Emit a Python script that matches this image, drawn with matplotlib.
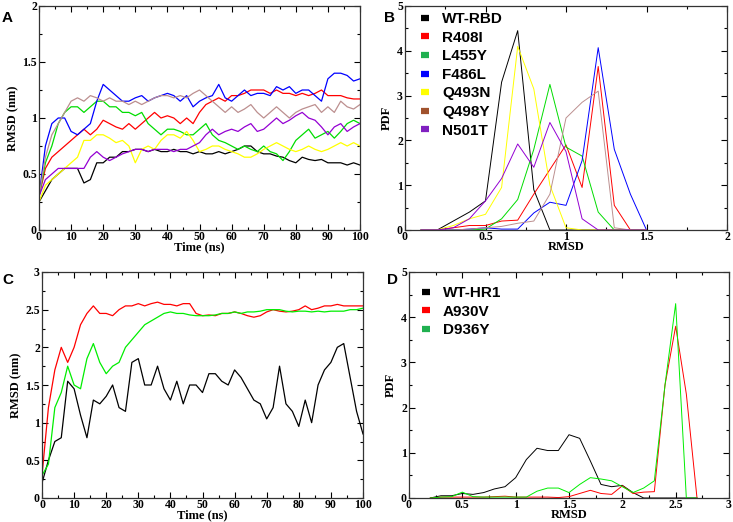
import numpy as np
import matplotlib
matplotlib.use("Agg")
import matplotlib.pyplot as plt
from matplotlib.lines import Line2D
from matplotlib.ticker import MultipleLocator

# ---- Panel A: RBD RMSD vs time (sampled every 2 ns) ----
t = np.arange(0, 101, 2)
rbd_names = ["WT-RBD", "R408I", "L455Y", "F486L", "Q493N", "Q498Y", "N501T"]
wt_rbd = [0.25, 0.35, 0.45, 0.5, 0.55, 0.55, 0.55, 0.42, 0.45, 0.6, 0.6, 0.65, 0.65, 0.7, 0.7, 0.72,
          0.72, 0.7, 0.72, 0.7, 0.7, 0.72, 0.7, 0.7, 0.68, 0.7, 0.68, 0.68, 0.7, 0.68, 0.7, 0.72,
          0.75, 0.75, 0.7, 0.68, 0.68, 0.66, 0.65, 0.62, 0.6, 0.65, 0.63, 0.62, 0.63, 0.6, 0.6, 0.6,
          0.58, 0.6, 0.58]
r408i = [0.3, 0.55, 0.65, 0.7, 0.75, 0.8, 0.85, 0.9, 0.85, 0.9, 0.98, 0.95, 0.92, 0.9, 0.95, 0.9,
         0.95, 1.0, 1.05, 1.0, 1.02, 1.0, 0.95, 1.0, 0.95, 1.05, 1.12, 1.15, 1.18, 1.15, 1.2, 1.2,
         1.22, 1.25, 1.25, 1.25, 1.22, 1.25, 1.22, 1.22, 1.2, 1.22, 1.2, 1.22, 1.25, 1.2, 1.2, 1.2,
         1.18, 1.17, 1.17]
l455y = [0.3, 0.6, 0.75, 0.95, 1.05, 1.1, 1.1, 1.05, 1.1, 1.15, 1.15, 1.1, 1.1, 1.05, 1.05, 1.02,
         1.05, 0.95, 0.9, 0.85, 0.9, 0.9, 0.88, 0.85, 0.85, 0.9, 0.95, 0.85, 0.8, 0.78, 0.75, 0.72,
         0.75, 0.72, 0.7, 0.75, 0.7, 0.68, 0.62, 0.7, 0.8, 0.85, 0.9, 0.82, 0.85, 0.88, 0.82, 0.88,
         0.95, 0.98, 0.95]
f486l = [0.3, 0.75, 0.95, 1.0, 1.0, 0.88, 0.85, 0.9, 0.95, 1.15, 1.3, 1.25, 1.2, 1.15, 1.15, 1.18,
         1.2, 1.15, 1.18, 1.2, 1.22, 1.2, 1.15, 1.2, 1.1, 1.15, 1.18, 1.2, 1.3, 1.18, 1.15, 1.2,
         1.25, 1.2, 1.22, 1.22, 1.2, 1.28, 1.25, 1.28, 1.22, 1.25, 1.25, 1.2, 1.15, 1.35, 1.4, 1.4,
         1.38, 1.33, 1.35]
q493n = [0.25, 0.4, 0.45, 0.5, 0.55, 0.6, 0.65, 0.8, 0.8, 0.85, 0.85, 0.82, 0.78, 0.8, 0.75, 0.6,
         0.72, 0.75, 0.72, 0.8, 0.85, 0.85, 0.82, 0.88, 0.8, 0.7, 0.72, 0.75, 0.75, 0.72, 0.7, 0.68,
         0.65, 0.65, 0.68, 0.72, 0.75, 0.78, 0.75, 0.72, 0.7, 0.72, 0.75, 0.72, 0.7, 0.72, 0.75, 0.78,
         0.75, 0.78, 0.75]
q498y = [0.3, 0.65, 0.85, 0.95, 1.05, 1.15, 1.18, 1.15, 1.2, 1.18, 1.15, 1.18, 1.15, 1.15, 1.12, 1.15,
         1.12, 1.15, 1.18, 1.2, 1.2, 1.18, 1.2, 1.18, 1.22, 1.25, 1.2, 1.15, 1.1, 1.05, 1.1, 1.05,
         1.08, 1.12, 1.05, 1.0, 1.05, 1.1, 1.05, 1.0, 1.05, 1.08, 1.1, 1.12, 1.05, 1.1, 1.05, 1.15,
         1.1, 1.08, 1.12]
n501t = [0.3, 0.45, 0.5, 0.55, 0.55, 0.55, 0.55, 0.55, 0.65, 0.7, 0.65, 0.62, 0.65, 0.68, 0.7, 0.72,
         0.72, 0.7, 0.72, 0.72, 0.72, 0.7, 0.72, 0.72, 0.75, 0.78, 0.85, 0.9, 0.85, 0.88, 0.9, 0.88,
         0.92, 0.95, 0.88, 0.9, 0.95, 1.0, 0.95, 0.98, 1.02, 1.05, 1.0, 0.98, 0.92, 0.85, 0.92, 0.95,
         0.88, 0.92, 0.95]

# ---- Panel B: RBD RMSD PDFs (bins of 0.1 nm) ----
bins_b = np.round(np.arange(0.1, 1.51, 0.1), 1)
pdf_wt_rbd = [0, 0, 0.2, 0.4, 0.65, 3.3, 4.45, 0.9, 0, 0, 0, 0, 0, 0, 0]
pdf_r408i = [0, 0, 0.05, 0.1, 0.1, 0.2, 0.22, 0.8, 1.35, 1.9, 0.95, 3.65, 0.55, 0, 0]
pdf_l455y = [0, 0, 0, 0, 0.02, 0.25, 0.68, 1.8, 3.25, 1.85, 1.65, 0.4, 0, 0, 0]
pdf_f486l = [0, 0, 0, 0.02, 0.05, 0.02, 0.02, 0.38, 0.62, 0.55, 1.55, 4.07, 1.8, 0.8, 0]
pdf_q493n = [0, 0, 0.1, 0.25, 0.35, 0.95, 4.1, 3.15, 1.0, 0.05, 0, 0, 0, 0, 0]
pdf_q498y = [0, 0, 0, 0.02, 0.05, 0.08, 0.15, 0.2, 0.8, 2.5, 2.85, 3.1, 0.05, 0, 0]
pdf_n501t = [0, 0, 0.05, 0.25, 0.65, 1.15, 1.92, 1.4, 2.4, 1.75, 0.25, 0, 0, 0, 0]

# ---- Panel C: HR1 RMSD vs time ----
hr1_names = ["WT-HR1", "A930V", "D936Y"]
wt_hr1 = [0.2, 0.5, 0.75, 0.8, 1.55, 1.45, 1.1, 0.8, 1.3, 1.25, 1.35, 1.5, 1.2, 1.15, 1.8, 1.85,
          1.5, 1.5, 1.75, 1.45, 1.3, 1.55, 1.25, 1.5, 1.5, 1.4, 1.65, 1.65, 1.55, 1.5, 1.7, 1.6,
          1.45, 1.3, 1.25, 1.05, 1.2, 1.75, 1.25, 1.15, 0.95, 1.3, 1.0, 1.5, 1.7, 1.8, 2.0, 2.05,
          1.6, 1.15, 0.85]
a930v = [0.3, 1.2, 1.7, 2.0, 1.8, 2.0, 2.3, 2.45, 2.55, 2.45, 2.45, 2.42, 2.5, 2.55, 2.55, 2.58,
         2.55, 2.58, 2.6, 2.57, 2.57, 2.55, 2.58, 2.58, 2.45, 2.42, 2.43, 2.42, 2.45, 2.45, 2.47, 2.45,
         2.42, 2.4, 2.42, 2.47, 2.5, 2.48, 2.47, 2.48, 2.5, 2.55, 2.5, 2.52, 2.55, 2.55, 2.57, 2.55,
         2.55, 2.55, 2.55]
d936y = [0.3, 0.45, 1.2, 1.4, 1.75, 1.5, 1.45, 1.85, 2.05, 1.8, 1.65, 1.75, 1.8, 2.0, 2.1, 2.2,
         2.3, 2.35, 2.4, 2.45, 2.47, 2.45, 2.45, 2.43, 2.42, 2.42, 2.42, 2.43, 2.45, 2.45, 2.47, 2.45,
         2.47, 2.47, 2.48, 2.5, 2.5, 2.5, 2.48, 2.47, 2.48, 2.48, 2.47, 2.48, 2.47, 2.48, 2.48, 2.48,
         2.5, 2.5, 2.52]

# ---- Panel D: HR1 RMSD PDFs ----
bins_d = np.round(np.arange(0.2, 2.71, 0.1), 1)
pdf_wt_hr1 = [0, 0.05, 0.05, 0.1, 0.08, 0.12, 0.2, 0.25, 0.45, 0.85, 1.1, 1.05, 1.05, 1.4, 1.32, 0.82,
              0.3, 0.25, 0.28, 0.12, 0, 0, 0, 0, 0, 0]
pdf_a930v = [0, 0.02, 0.02, 0.02, 0.02, 0.02, 0.03, 0.04, 0.02, 0.02, 0.02, 0.02, 0.01, 0.03, 0.1, 0.17,
             0.1, 0.08, 0.27, 0.1, 0.13, 0.14, 2.5, 3.8, 2.3, 0]
pdf_d936y = [0, 0.02, 0.03, 0.13, 0.03, 0.02, 0.02, 0.02, 0.02, 0.02, 0.15, 0.22, 0.22, 0.12, 0.3, 0.45,
             0.42, 0.38, 0.25, 0.12, 0.22, 0.38, 2.5, 4.3, 0, 0]

rbd_colors = ["black", "#ff0000", "#00dd00", "#0000ff", "#ffff00", "#bc8f8f", "#9400d3"]
rbd_leg_colors = ["black", "#ff0000", "#20b050", "#0000ff", "#ffff00", "#a0522d", "#8020c0"]
hr1_colors = ["black", "#ff0000", "#00ee00"]
hr1_leg_colors = ["black", "#ff0000", "#20b050"]

serif = "Liberation Serif"


def style(ax, xmaj, xmin, ymaj, ymin):
    ax.xaxis.set_major_locator(MultipleLocator(xmaj))
    ax.xaxis.set_minor_locator(MultipleLocator(xmin))
    ax.yaxis.set_major_locator(MultipleLocator(ymaj))
    ax.yaxis.set_minor_locator(MultipleLocator(ymin))
    ax.tick_params(which="both", direction="in", top=True, right=True, width=0.8)
    ax.tick_params(axis="x", which="both", pad=0.5)
    ax.tick_params(axis="y", which="both", pad=1.5)
    ax.tick_params(which="major", length=4)
    ax.tick_params(which="minor", length=2.5)
    ax.xaxis.set_major_formatter(lambda v, p: f"{v:g}")
    ax.yaxis.set_major_formatter(lambda v, p: f"{v:g}")
    for lab in ax.get_xticklabels() + ax.get_yticklabels():
        lab.set_fontfamily(serif)
        lab.set_fontweight("bold")
        lab.set_fontsize(8.5)
    for s in ax.spines.values():
        s.set_linewidth(0.9)
        s.set_color("#333333")


def labels(ax, xl, yl, ypad):
    ax.set_xlabel(xl, fontfamily=serif, fontweight="bold", fontsize=9, labelpad=-1)
    ax.set_ylabel(yl, fontfamily=serif, fontweight="bold", fontsize=9, labelpad=ypad)


def legend(ax, names, colors, x0, y0):
    handles = [Line2D([], [], color=c, lw=4.5, solid_capstyle="butt") for c in colors]
    ax.legend(handles, names, loc="upper left", bbox_to_anchor=(x0, y0), frameon=False,
              handlelength=0.55, handletextpad=0.85, labelspacing=0.3, borderaxespad=0,
              prop=dict(family="Liberation Sans", weight="bold", size=11))


fig = plt.figure(figsize=(7.33, 5.22), dpi=100)
axA = fig.add_axes([39 / 733, 1 - 230 / 522, 321 / 733, 224 / 522])
axB = fig.add_axes([405 / 733, 1 - 230 / 522, 322 / 733, 224 / 522])
axC = fig.add_axes([42 / 733, 1 - 498 / 522, 321 / 733, 226 / 522])
axD = fig.add_axes([409 / 733, 1 - 498 / 522, 320 / 733, 226 / 522])

series_a = [wt_rbd, r408i, l455y, f486l, q493n, q498y, n501t]
for ys, c in zip(series_a, rbd_colors):
    axA.plot(t, ys, color=c, lw=0.9)
axA.set_xlim(0, 100); axA.set_ylim(0, 2)
style(axA, 10, 5, 0.5, 0.25)
labels(axA, "Time (ns)", "RMSD (nm)", 2)

series_b = [pdf_wt_rbd, pdf_r408i, pdf_l455y, pdf_f486l, pdf_q493n, pdf_q498y, pdf_n501t]
for ys, c in zip(series_b, rbd_colors):
    axB.plot(bins_b, ys, color=c, lw=0.7)
axB.set_xlim(0, 2); axB.set_ylim(0, 5)
style(axB, 0.5, 0.25, 1, 0.5)
labels(axB, "RMSD", "PDF", 3)
legend(axB, rbd_names, rbd_leg_colors, 0.03, 1.0)

for ys, c in zip([wt_hr1, a930v, d936y], hr1_colors):
    axC.plot(t, ys, color=c, lw=0.9)
axC.set_xlim(0, 100); axC.set_ylim(0, 3)
style(axC, 10, 5, 0.5, 0.25)
labels(axC, "Time (ns)", "RMSD (nm)", 2)

for ys, c in zip([pdf_wt_hr1, pdf_a930v, pdf_d936y], hr1_colors):
    axD.plot(bins_d, ys, color=c, lw=0.7)
axD.set_xlim(0, 3); axD.set_ylim(0, 5)
style(axD, 0.5, 0.25, 1, 0.5)
labels(axD, "RMSD", "PDF", 3)
legend(axD, hr1_names, hr1_leg_colors, 0.02, 0.965)

letter = dict(fontfamily="Liberation Sans", fontweight="bold", fontsize=11)
fig.text(2 / 733, 1 - 22 / 522, "A", **letter)
fig.text(384 / 733, 1 - 22 / 522, "B", **letter)
fig.text(2 / 733, 1 - 284 / 522, "C", **letter)
fig.text(387 / 733, 1 - 284 / 522, "D", **letter)

fig.savefig("out.png", dpi=100)
